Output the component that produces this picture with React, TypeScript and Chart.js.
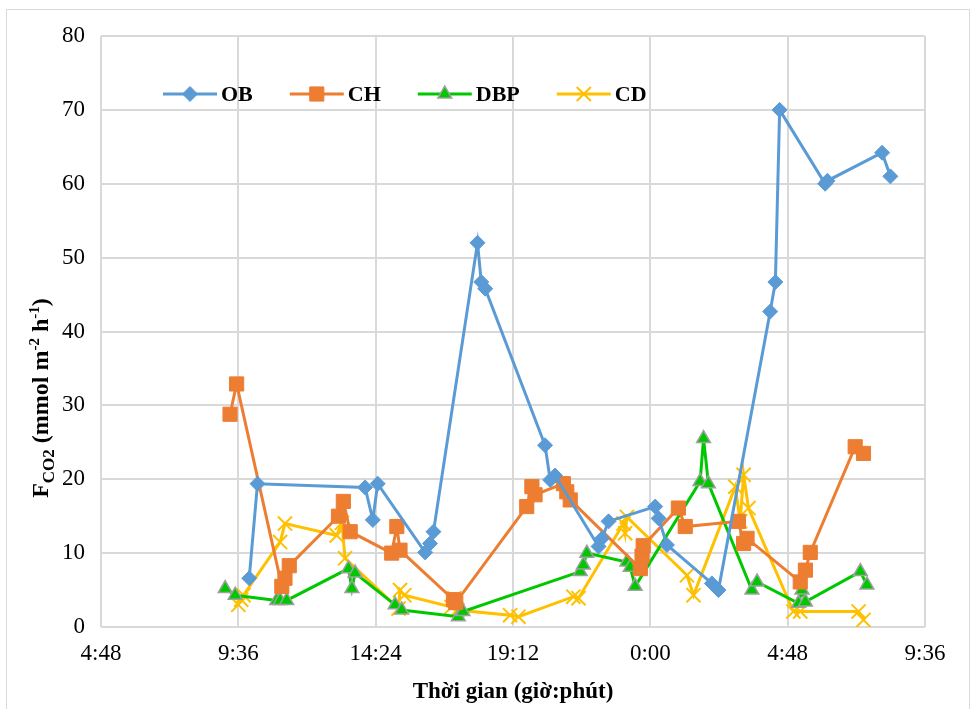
import React, { useEffect, useRef } from 'react';
import { Chart, registerables } from 'chart.js';
import { drawPoint } from 'chart.js/helpers';

Chart.register(...registerables);

// X axis: hours since midnight of the first day (values > 24 are the next day)
const xTickHours = [4.8, 9.6, 14.4, 19.2, 24, 28.8, 33.6];
const xTickLabels = ['4:48', '9:36', '14:24', '19:12', '0:00', '4:48', '9:36'];
const yMin = 0;
const yMax = 80;
const yStep = 10;

const seriesNames = ['OB', 'CH', 'DBP', 'CD'];

const obTimes = [9.98, 10.27, 14.03, 14.3, 14.47, 16.13, 16.3, 16.42, 17.96, 18.09, 18.23, 20.32, 20.5, 20.67, 22.19, 22.31, 22.54, 24.17, 24.29, 24.58, 26.15, 26.38, 28.19, 28.37, 28.52, 30.11, 30.19, 32.1, 32.39];
const obValues = [6.6, 19.4, 18.9, 14.5, 19.4, 10.1, 11.3, 12.9, 52.0, 46.7, 45.8, 24.6, 19.9, 20.5, 10.9, 12.0, 14.3, 16.3, 14.7, 11.1, 5.9, 5.0, 42.7, 46.7, 70.0, 60.0, 60.4, 64.2, 61.0];

const chTimes = [9.31, 9.54, 11.12, 11.23, 11.38, 13.1, 13.27, 13.51, 14.96, 15.14, 15.25, 17.12, 17.2, 19.68, 19.86, 19.97, 20.96, 21.08, 21.2, 23.65, 23.71, 23.75, 24.98, 25.22, 27.08, 27.26, 27.38, 29.24, 29.42, 29.59, 31.16, 31.45];
const chValues = [28.8, 32.9, 5.5, 6.6, 8.3, 15.0, 17.0, 12.9, 10.0, 13.6, 10.4, 3.7, 3.3, 16.3, 19.0, 17.9, 19.4, 18.3, 17.2, 7.9, 9.6, 11.0, 16.1, 13.6, 14.3, 11.3, 12.0, 6.1, 7.7, 10.1, 24.4, 23.5];

const dbpTimes = [9.14, 9.49, 10.94, 11.06, 11.29, 13.45, 13.57, 13.68, 15.08, 15.31, 17.29, 17.45, 21.55, 21.66, 21.78, 23.18, 23.3, 23.47, 25.74, 25.86, 26.03, 27.55, 27.73, 29.18, 29.3, 29.42, 31.34, 31.57];
const dbpValues = [5.2, 4.3, 3.6, 3.6, 3.6, 7.9, 5.2, 7.3, 3.0, 2.3, 1.4, 2.1, 7.5, 8.4, 10.0, 8.8, 8.1, 5.5, 19.7, 25.5, 19.4, 5.0, 6.1, 3.2, 5.0, 3.4, 7.5, 5.7];

const cdTimes = [9.6, 9.7, 9.78, 11.06, 11.23, 13.04, 13.22, 13.33, 15.2, 15.25, 15.4, 17.05, 17.15, 17.25, 19.1, 19.39, 21.31, 21.49, 23.06, 23.12, 23.18, 25.28, 25.51, 26.97, 27.14, 27.26, 27.43, 29.0, 29.24, 31.28, 31.45];
const cdValues = [3.0, 3.7, 4.3, 11.5, 14.0, 12.4, 14.1, 9.3, 2.5, 5.0, 4.3, 2.7, 3.9, 2.3, 1.6, 1.4, 4.1, 3.9, 14.0, 12.7, 14.9, 7.0, 4.3, 19.0, 14.3, 20.6, 16.1, 2.1, 2.1, 2.1, 0.95];

const FONT = "'Liberation Serif', 'Times New Roman', serif";

export default function App() {
  const ref = useRef<HTMLCanvasElement>(null);

  useEffect(() => {
    const pts = (t: number[], v: number[]) => t.map((x, i) => ({ x, y: v[i] }));
    const styles = [
      { color: '#5B9BD5', fill: '#5B9BD5', border: '#5B9BD5', pointStyle: 'rectRot', radius: 7.5, bw: 1 },
      { color: '#ED7D31', fill: '#ED7D31', border: '#ED7D31', pointStyle: 'rect', radius: 10, bw: 1 },
      { color: '#00C800', fill: '#00C800', border: '#A0A0A0', pointStyle: 'triangle', radius: 8, bw: 1.5 },
      { color: '#FFC000', fill: '#FFC000', border: '#FFC000', pointStyle: 'crossRot', radius: 10, bw: 2 },
    ];
    const raw = [pts(obTimes, obValues), pts(chTimes, chValues), pts(dbpTimes, dbpValues), pts(cdTimes, cdValues)];
    const datasets = raw.map((d, i) => ({
      label: seriesNames[i],
      data: d,
      showLine: true,
      borderColor: styles[i].color,
      borderWidth: 3,
      backgroundColor: styles[i].fill,
      pointStyle: styles[i].pointStyle as any,
      pointRadius: styles[i].radius,
      pointBackgroundColor: styles[i].fill,
      pointBorderColor: styles[i].border,
      pointBorderWidth: styles[i].bw,
      tension: 0,
    }));

    const overlay = {
      id: 'overlay',
      afterDraw(chart: any) {
        const ctx = chart.ctx as CanvasRenderingContext2D;
        ctx.save();
        // Legend
        ctx.font = `bold 22px ${FONT}`;
        ctx.textBaseline = 'middle';
        ctx.textAlign = 'left';
        let x = 163;
        const ly = 94;
        styles.forEach((s, i) => {
          ctx.strokeStyle = s.color;
          ctx.lineWidth = 3;
          ctx.beginPath();
          ctx.moveTo(x, ly);
          ctx.lineTo(x + 54, ly);
          ctx.stroke();
          ctx.fillStyle = s.fill;
          ctx.strokeStyle = s.border;
          ctx.lineWidth = s.bw;
          drawPoint(ctx, { pointStyle: s.pointStyle as any, radius: s.radius, rotation: 0, borderWidth: s.bw } as any, x + 27, ly);
          ctx.fillStyle = '#000';
          ctx.fillText(seriesNames[i], x + 58, ly + 1);
          x += 58 + ctx.measureText(seriesNames[i]).width + 37;
        });

        // X title
        ctx.font = `bold 23px ${FONT}`;
        ctx.textAlign = 'center';
        ctx.fillStyle = '#000';
        ctx.fillText('Thời gian (giờ:phút)', 513, 692);

        // Y title with subscript / superscripts
        const segs = [
          { t: 'F', size: 24, dy: 0 },
          { t: 'CO2', size: 17, dy: 6 },
          { t: ' (mmol m', size: 24, dy: 0 },
          { t: '-2', size: 15, dy: -9 },
          { t: ' h', size: 24, dy: 0 },
          { t: '-1', size: 15, dy: -9 },
          { t: ')', size: 24, dy: 0 },
        ];
        let total = 0;
        const widths = segs.map((s) => {
          ctx.font = `bold ${s.size}px ${FONT}`;
          const w = ctx.measureText(s.t).width;
          total += w;
          return w;
        });
        ctx.translate(40, 398);
        ctx.rotate(-Math.PI / 2);
        ctx.textAlign = 'left';
        ctx.textBaseline = 'alphabetic';
        let tx = -total / 2;
        segs.forEach((s, i) => {
          ctx.font = `bold ${s.size}px ${FONT}`;
          ctx.fillText(s.t, tx, 8 + s.dy);
          tx += widths[i];
        });
        ctx.restore();
      },
    };

    const chart = new Chart(ref.current as HTMLCanvasElement, {
      type: 'scatter',
      data: { datasets: datasets as any },
      options: {
        animation: false,
        responsive: false,
        devicePixelRatio: 1,
        layout: { padding: { left: 0, right: 49, top: 36, bottom: 0 } },
        plugins: {
          legend: { display: false },
          tooltip: { enabled: false },
        },
        scales: {
          x: {
            type: 'linear',
            min: xTickHours[0],
            max: xTickHours[xTickHours.length - 1],
            afterFit: (s: any) => { s.height = 82; },
            afterBuildTicks: (s: any) => { s.ticks = xTickHours.map((v) => ({ value: v })); },
            grid: { color: '#d9d9d9', lineWidth: 2, drawTicks: false },
            border: { display: false },
            ticks: {
              padding: 13,
              color: '#000',
              font: { family: FONT, size: 23 },
              maxRotation: 0,
              autoSkip: false,
              callback: (_v: any, i: number) => xTickLabels[i],
            },
          },
          y: {
            type: 'linear',
            min: yMin,
            max: yMax,
            afterFit: (s: any) => { s.width = 101; },
            grid: { color: '#d9d9d9', lineWidth: 2, drawTicks: false },
            border: { display: false },
            ticks: {
              stepSize: yStep,
              padding: 16,
              color: '#000',
              font: { family: FONT, size: 23 },
            },
          },
        },
      },
      plugins: [overlay],
    });
    return () => chart.destroy();
  }, []);

  return (
    <div style={{ position: 'absolute', left: 0, top: 0, width: 974, height: 709, background: '#fff', overflow: 'hidden' }}>
      <div style={{ position: 'absolute', left: 6, top: 9, width: 964, height: 730, border: '1px solid #d9d9d9', boxSizing: 'border-box' }} />
      <canvas ref={ref} width={974} height={709} style={{ position: 'absolute', left: 0, top: 0, width: 974, height: 709 }} />
    </div>
  );
}
